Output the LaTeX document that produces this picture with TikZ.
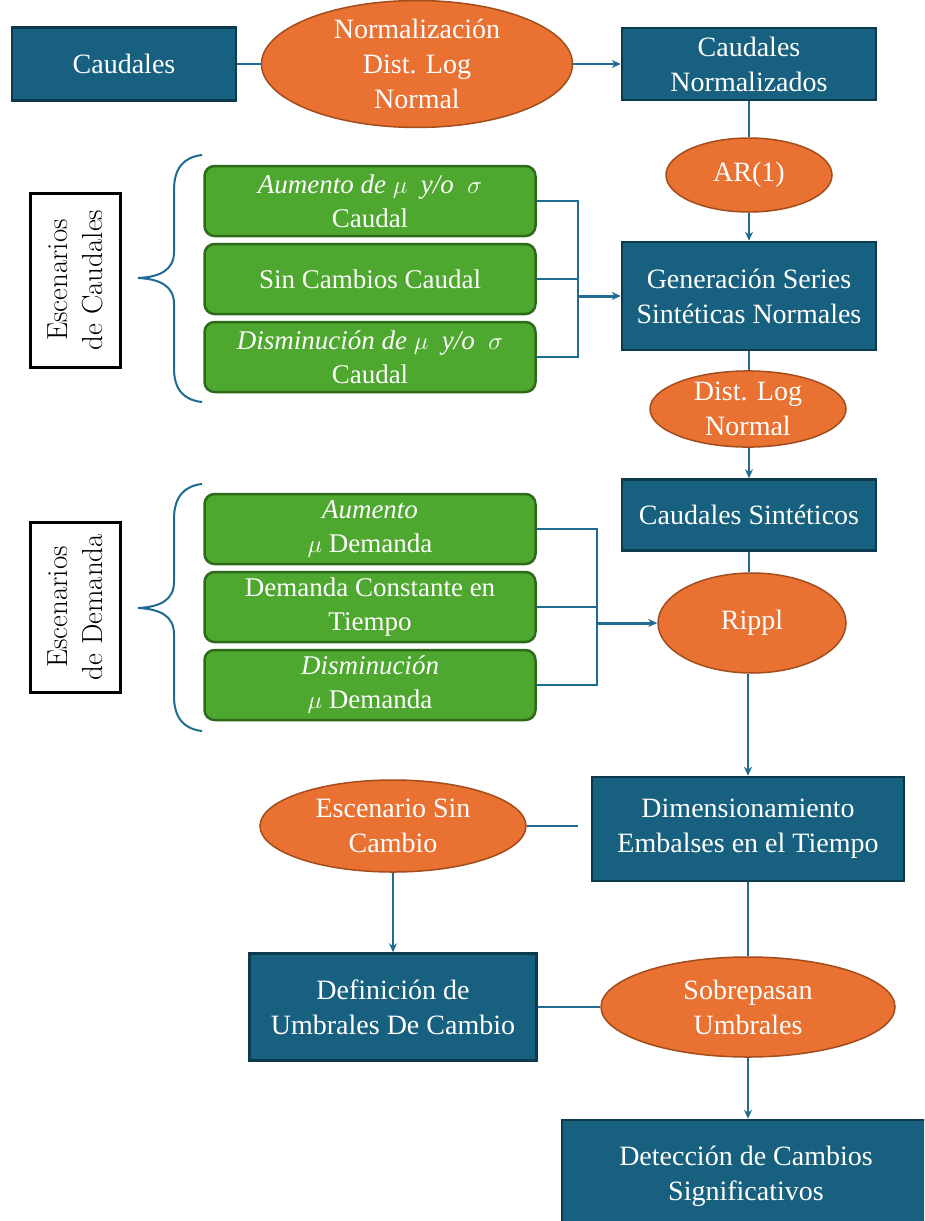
\documentclass[tikz,border=0pt]{standalone}
\usepackage{fontspec}
\setmainfont{Liberation Serif}
\newfontfamily\lmfont{Latin Modern Roman}
\usetikzlibrary{arrows.meta,shapes.geometric}
\definecolor{bfill}{HTML}{17607F}
\definecolor{bdraw}{HTML}{0C3A4E}
\definecolor{ofill}{HTML}{E97132}
\definecolor{odraw}{HTML}{A34C1C}
\definecolor{gfill}{HTML}{4EA72E}
\definecolor{gdraw}{HTML}{2D6A1A}
\definecolor{cline}{HTML}{1F6B94}
\tikzset{
  txt/.style={text=white, align=center, font=\fontsize{28}{35}\selectfont, inner sep=0pt},
  bluebox/.style={txt, rectangle, fill=bfill, draw=bdraw, line width=2.5pt},
  oval/.style={txt, ellipse, fill=ofill, draw=odraw, line width=1.5pt},
  greenbox/.style={txt, font=\fontsize{27}{34}\selectfont, rectangle, rounded corners=10pt, fill=gfill, draw=gdraw, line width=2.5pt, minimum width=331pt, minimum height=70pt},
  conn/.style={draw=cline, line width=2pt},
  arr/.style={conn, -{Stealth[length=9pt,width=8pt]}},
  labelbox/.style={draw=black, line width=3pt, rotate=90, align=center, inner sep=0pt, font=\lmfont\fontsize{29}{35}\selectfont},
  bracepath/.style={draw=cline, line width=2pt}
}
\begin{document}
\begin{tikzpicture}[x=1pt,y=-1pt]
\useasboundingbox (0,0) rectangle (924,1221);
\clip (0,0) rectangle (924,1221);
\fill[white] (0,0) rectangle (924,1221);

% top row
\node[bluebox, minimum width=224pt, minimum height=73pt] (caud) at (124,64) {Caudales};
\node[oval, minimum width=311pt, minimum height=114pt] (norm) at (417,64) {Normalización\\Dist. Log\\Normal};
\node[bluebox, minimum width=254pt, minimum height=72pt] (cnorm) at (749,64) {Caudales\\Normalizados};

% right column
\node[oval, minimum width=166pt, minimum height=74pt] (ar) at (749,175) {AR(1)};
\node[bluebox, minimum width=254pt, minimum height=108pt] (gen) at (749,296) {Generación Series\\Sintéticas Normales};
\node[oval, minimum width=196pt, minimum height=74pt] (dln) at (748,409) {Dist. Log\\Normal};
\node[bluebox, minimum width=254pt, minimum height=71pt] (csint) at (749,515) {Caudales Sintéticos};
\node[oval, minimum width=188pt, minimum height=100pt] (rippl) at (752,623) {Rippl};
\node[bluebox, minimum width=312pt, minimum height=104pt] (dim) at (748,829) {Dimensionamiento\\Embalses en el Tiempo};
\node[oval, minimum width=266pt, minimum height=92pt] (esc) at (393,826) {Escenario Sin\\Cambio};
\node[bluebox, minimum width=287pt, minimum height=107pt] (def) at (393,1007) {Definición de\\Umbrales De Cambio};
\node[oval, minimum width=294pt, minimum height=100pt] (sob) at (748,1007) {Sobrepasan\\Umbrales};
\node[bluebox, minimum width=368pt, minimum height=112pt] (det) at (746,1176) {Detección de Cambios\\Significativos};

% green boxes caudales
\node[greenbox] (g1) at (370,201) {{\itshape Aumento de $\mu$\ \ y/o\ \ $\sigma$}\\Caudal};
\node[greenbox] (g2) at (370,279) {Sin Cambios Caudal};
\node[greenbox] (g3) at (370,357) {{\itshape Disminución de $\mu$\ \ y/o\ \ $\sigma$}\\Caudal};

% green boxes demanda
\node[greenbox] (d1) at (370,529) {{\itshape Aumento}\\$\mu$ Demanda};
\node[greenbox] (d2) at (370,607) {Demanda Constante en\\Tiempo};
\node[greenbox] (d3) at (370,685) {{\itshape Disminución}\\$\mu$ Demanda};

% label boxes
\node[labelbox, minimum width=174pt, minimum height=90pt] (lc) at (75,280) {Escenarios\\de Caudales};
\node[labelbox, minimum width=170pt, minimum height=90pt] (ld) at (75,607) {Escenarios\\de Demanda};

% braces
\draw[bracepath] (202,155) .. controls (184,157) and (174,168) .. (174,190) -- (174,252)
  .. controls (174,270) and (160,277) .. (138,278)
  .. controls (160,279) and (174,286) .. (174,304) -- (174,368)
  .. controls (174,390) and (184,400) .. (202,402);
\draw[bracepath] (202,484) .. controls (184,486) and (174,497) .. (174,519) -- (174,582)
  .. controls (174,600) and (160,607) .. (138,608)
  .. controls (160,609) and (174,616) .. (174,634) -- (174,696)
  .. controls (174,718) and (184,729) .. (202,731);

% connectors top
\draw[conn] (caud.east) -- (norm.west);
\draw[arr] (norm.east) -- (cnorm.west);
\draw[conn] (cnorm.south) -- (cnorm.south |- ar.north);
\draw[arr] (ar.south -| gen.north) -- (gen.north);
\draw[conn] (gen.south) -- (gen.south |- dln.north);
\draw[arr] (dln.south -| csint.north) -- (csint.north);
\draw[conn] (csint.south) -- (csint.south |- rippl.north);
\draw[arr] (rippl.south -| dim.north) -- (dim.north);

% junction caudales
\coordinate (jx) at (578,0);
\draw[conn] (g1.east) -- (g1.east -| jx) -- (g3.east -| jx) -- (g3.east);
\draw[conn] (g2.east) -- (g2.east -| jx);
\draw[arr, line width=3pt] (jx |- gen.west) -- (gen.west);

% junction demanda
\coordinate (jy) at (597,0);
\draw[conn] (d1.east) -- (d1.east -| jy) -- (d3.east -| jy) -- (d3.east);
\draw[conn] (d2.east) -- (d2.east -| jy);
\draw[arr, line width=3pt] (jy |- rippl.west) -- (rippl.west);

% bottom
\coordinate (escend) at (578,826);
\draw[conn] (esc.east) -- (escend);
\draw[arr] (esc.south) -- (def.north);
\draw[conn] (dim.south) -- (dim.south |- sob.north);
\draw[conn] (def.east) -- (sob.west);
\draw[arr] (sob.south) -- (sob.south |- det.north);
\end{tikzpicture}
\end{document}
